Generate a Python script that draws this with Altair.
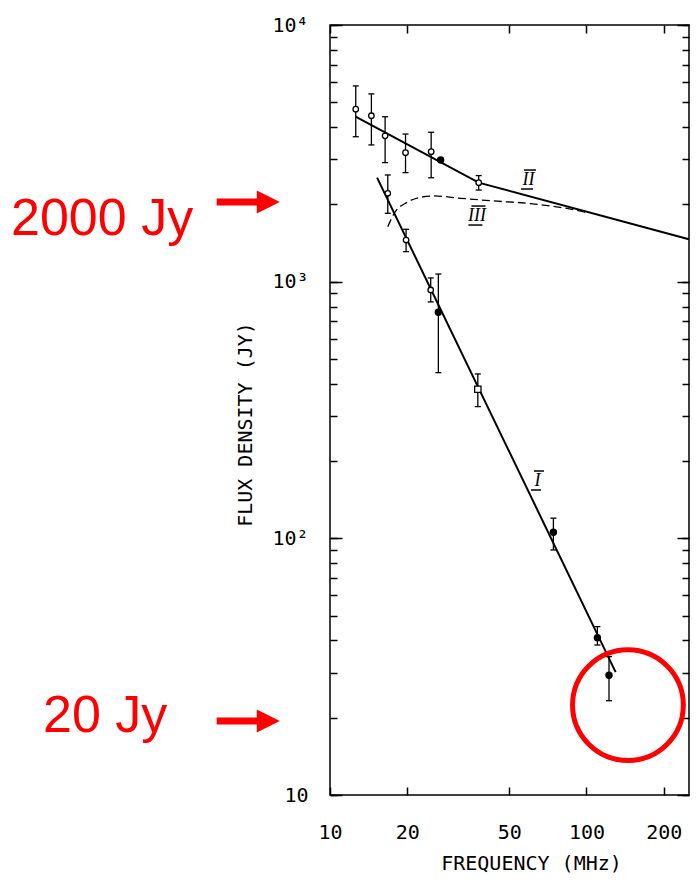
import altair as alt
import pandas as pd

# ---------------- data ----------------
# Spectrum II (upper), open circles with error bars
ii_freq = [12.6, 14.5, 16.4, 19.7, 24.8, 38.0]
ii_flux = [4700, 4430, 3700, 3180, 3210, 2430]
ii_lo = [3670, 3410, 2910, 2660, 2540, 2275]
ii_hi = [5790, 5390, 4390, 3760, 3820, 2590]

# filled point lying on spectrum II
iif_freq = [27.0]
iif_flux = [2980]

# Spectrum I, open circles
io_freq = [16.8, 19.8, 24.7]
io_flux = [2210, 1453, 928]
io_lo = [1847, 1309, 834]
io_hi = [2604, 1600, 1034]

# Spectrum I, open square
isq_freq = [37.7]
isq_flux = [381]
isq_lo = [326]
isq_hi = [437]

# Spectrum I, filled circles
if_freq = [26.45, 74.3, 110.3, 122.4]
if_flux = [760, 105.6, 41.0, 29.3]
if_lo = [442, 90.1, 38.4, 23.3]
if_hi = [1071, 119.8, 45.3, 34.6]

# fitted curves
line1_freq = [15.26, 129.9]
line1_flux = [2542, 30.1]
line2_freq = [12.58, 38.0, 250.7]
line2_flux = [4394, 2431, 1463]
line3_freq = [16.8, 17.8, 20.0, 22.6, 25.5, 32.3, 43.5, 58.5, 78.8, 100.0]
line3_flux = [1638, 1847, 2039, 2133, 2158, 2113, 2063, 2021, 1949, 1863]

# curve labels (roman numerals)
num_text = ["I", "II", "III"]
num_freq = [64.4, 59.4, 37.4]
num_flux = [168, 2500, 1810]

# red annotations
ann_text = ["2000 Jy", "20 Jy"]
ann_flux = [2000, 20]
circle_freq = [145.1]
circle_flux = [22.4]

# axes
x_ticks = [10, 20, 50, 100, 200]
decades = [10, 100, 1000]
mults = [1, 2, 3, 4, 5, 6, 7, 8, 9]
y_ticks = [d * m for d in decades for m in mults] + [10000]
y_major = [10, 100, 1000, 10000]

# ---------------- layout constants ----------------
W, H = 359, 770
MONO = "DejaVu Sans Mono"
RED = "#ff0000"

x_scale = alt.Scale(type="log", domain=[10, 251], nice=False)
y_scale = alt.Scale(type="log", domain=[10, 10000], nice=False)

x_axis = alt.Axis(
    orient="bottom", values=x_ticks, format="d",
    grid=True, gridDash=[8, H - 16, 8, 3000], gridColor="black", gridWidth=1.5, gridOpacity=1,
    ticks=False, tickSize=0, domain=False,
    labelFont=MONO, labelFontSize=20, labelColor="black", labelPadding=37,
    labelBaseline="middle", labelFlush=False, labelOverlap=False,
    title="FREQUENCY (MHz)", titleFont=MONO, titleFontSize=20, titleFontWeight="normal",
    titleColor="black", titleX=201, titleY=68, titleAlign="center", titleBaseline="middle",
)

y_label_expr = ("datum.value == 10 ? '10\u00a0' : datum.value == 100 ? '10\u00b2' : "
                "datum.value == 1000 ? '10\u00b3' : datum.value == 10000 ? '10\u2074' : ''")

y_axis_main = alt.Axis(
    orient="left", values=y_ticks, labelExpr=y_label_expr,
    grid=True, gridDash=[7, W - 14, 7, 3000], gridColor="black", gridWidth=1.5, gridOpacity=1,
    ticks=False, tickSize=0, domain=False,
    labelFont=MONO, labelFontSize=20, labelColor="black", labelPadding=22,
    labelAlign="right", labelBaseline="middle", labelFlush=False, labelOverlap=False,
    title="FLUX DENSITY (JY)", titleFont=MONO, titleFontSize=20, titleFontWeight="normal",
    titleColor="black", titleAngle=270, titleX=-85, titleY=399,
    titleAlign="center", titleBaseline="middle",
)

y_axis_major = alt.Axis(
    orient="left", values=y_major, labels=False,
    grid=True, gridDash=[12, W - 24, 12, 3000], gridColor="black", gridWidth=1.5, gridOpacity=1,
    ticks=False, tickSize=0, domain=False, title=None,
)


def X(field="freq", axis=None):
    return alt.X(f"{field}:Q", scale=x_scale, axis=axis)


def Y(field="flux", axis=None):
    return alt.Y(f"{field}:Q", scale=y_scale, axis=axis)


# ---------------- tables ----------------
df_l1 = pd.DataFrame({"freq": line1_freq, "flux": line1_flux})
df_l2 = pd.DataFrame({"freq": line2_freq, "flux": line2_flux})
df_l3 = pd.DataFrame({"freq": line3_freq, "flux": line3_flux})

df_err = pd.DataFrame({
    "freq": ii_freq + io_freq + isq_freq + if_freq,
    "lo": ii_lo + io_lo + isq_lo + if_lo,
    "hi": ii_hi + io_hi + isq_hi + if_hi,
})
df_open = pd.DataFrame({"freq": ii_freq + io_freq, "flux": ii_flux + io_flux})
df_sq = pd.DataFrame({"freq": isq_freq, "flux": isq_flux})
df_fill = pd.DataFrame({"freq": if_freq + iif_freq, "flux": if_flux + iif_flux})

# ---------------- layers ----------------
line2 = alt.Chart(df_l2).mark_line(color="black", strokeWidth=2).encode(
    x=X(axis=x_axis), y=Y(axis=y_axis_main))
line1 = alt.Chart(df_l1).mark_line(color="black", strokeWidth=2).encode(
    x=X(), y=Y(axis=y_axis_major))
line3 = alt.Chart(df_l3).mark_line(color="black", strokeWidth=1.3, strokeDash=[8, 4],
                                   interpolate="monotone").encode(x=X(), y=Y())

err = alt.Chart(df_err).mark_rule(color="black", strokeWidth=1.3).encode(
    x=X(), y=Y("lo"), y2=alt.Y2("hi:Q"))
cap_lo = alt.Chart(df_err).mark_tick(orient="horizontal", size=6, thickness=1.3,
                                     color="black", opacity=1).encode(x=X(), y=Y("lo"))
cap_hi = alt.Chart(df_err).mark_tick(orient="horizontal", size=6, thickness=1.3,
                                     color="black", opacity=1).encode(x=X(), y=Y("hi"))

open_pts = alt.Chart(df_open).mark_point(shape="circle", size=30, stroke="black", strokeWidth=1.3,
                                         fill="white", fillOpacity=1, opacity=1).encode(x=X(), y=Y())
sq_pts = alt.Chart(df_sq).mark_point(shape="square", size=40, stroke="black", strokeWidth=1.3,
                                     fill="white", fillOpacity=1, opacity=1).encode(x=X(), y=Y())
fill_pts = alt.Chart(df_fill).mark_point(shape="circle", size=55, filled=True, color="black",
                                         opacity=1).encode(x=X(), y=Y())

layers = [line2, line1, line3, err, cap_lo, cap_hi, open_pts, sq_pts, fill_pts]

# roman numeral labels with bars above and below
half_w = {"I": 5, "II": 6, "III": 7}
for t, f, v in zip(num_text, num_freq, num_flux):
    d = pd.DataFrame({"freq": [f], "flux": [v], "t": [t]})
    layers.append(alt.Chart(d).mark_text(font="Liberation Serif", fontStyle="italic", fontSize=18,
                                         color="black", align="center", baseline="middle").encode(
        x=X(), y=Y(), text="t:N"))
    hw = half_w[t]
    layers.append(alt.Chart(d).mark_rule(color="black", strokeWidth=1.5, xOffset=-hw + 1.5,
                                         x2Offset=hw + 1.5, yOffset=-9.5).encode(
        x=X(), x2=alt.X2("freq:Q"), y=Y()))
    layers.append(alt.Chart(d).mark_rule(color="black", strokeWidth=1.5, xOffset=-hw - 1.5,
                                         x2Offset=hw - 1.5, yOffset=9.5).encode(
        x=X(), x2=alt.X2("freq:Q"), y=Y()))

# red annotations: text + arrows pointing at the axis
ann_pos = {"2000 Jy": (-319, 30.6, -2.4), "20 Jy": (-287, 13.9, 3.2)}
for t, v in zip(ann_text, ann_flux):
    tx, tdy, ady = ann_pos[t]
    d = pd.DataFrame({"flux": [v], "t": [t]})
    layers.append(alt.Chart(d).mark_text(font="Liberation Sans", fontSize=52, color=RED,
                                         align="left", baseline="alphabetic", dy=tdy).encode(
        x=alt.value(tx), y=Y(), text="t:N"))
    layers.append(alt.Chart(d).mark_rule(color=RED, strokeWidth=7, yOffset=ady).encode(
        x=alt.value(-113.3), x2=alt.value(-68), y=Y()))
    layers.append(alt.Chart(d).mark_point(shape="M-1,-1L1,0L-1,1Z", size=529, filled=True,
                                          color=RED, opacity=1, yOffset=ady).encode(
        x=alt.value(-61.7), y=Y()))

df_circ = pd.DataFrame({"freq": circle_freq, "flux": circle_flux})
layers.append(alt.Chart(df_circ).mark_point(shape="circle", size=12272, filled=False, color=RED,
                                            strokeWidth=5, opacity=1).encode(x=X(), y=Y()))

chart = alt.layer(*layers).resolve_axis(x="independent", y="independent").properties(
    width=W, height=H,
    autosize=alt.AutoSizeParams(type="none"),
    padding={"left": 322, "top": 17, "right": 1, "bottom": 82},
    background="white",
).configure_view(stroke="black", strokeWidth=1.5)

chart.save("out.html", embed_options={"renderer": "svg", "actions": False})
